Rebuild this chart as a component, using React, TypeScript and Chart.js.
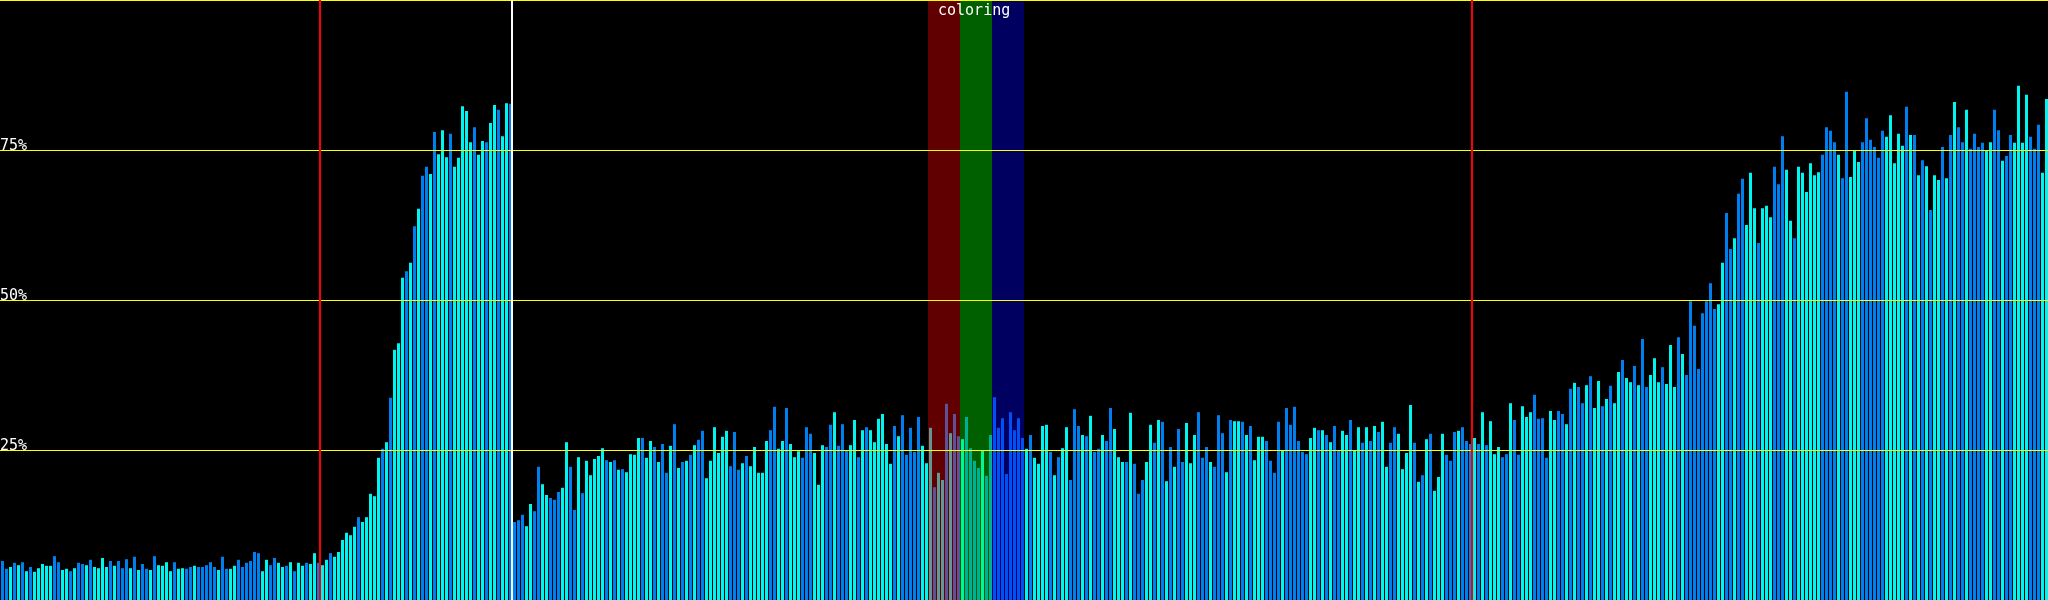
import { useEffect, useRef } from "react";
import { Chart, registerables } from "chart.js";

Chart.register(...registerables);

// ---- data ----
// bar heights in percent, 512 bars, split into runs
const valuesIdle = [
  6.5, 5.2, 5.5, 6.2, 5.8, 6.3, 4.8, 5.5, 4.7, 5.3, 6.0, 5.7, 5.7, 7.3, 6.3, 5.0, 5.2, 4.8, 5.3, 6.2,
  6.0, 5.8, 6.7, 5.5, 5.3, 7.0, 5.5, 6.5, 5.7, 6.5, 5.3, 6.8, 5.3, 7.2, 5.0, 6.0, 5.2, 5.0, 7.3, 5.8,
  5.7, 6.3, 4.8, 6.3, 5.2, 5.3, 5.2, 5.5, 5.7, 5.5, 5.5, 5.8, 6.3, 5.5, 5.0, 7.2, 5.2, 5.2, 5.7, 6.7,
  5.5, 6.2, 6.5, 8.0, 7.8, 4.8, 6.7, 5.8, 7.0, 6.2, 5.5, 5.7, 6.3, 4.8, 6.2, 5.7, 6.2, 6.0, 7.8, 6.2,
];
const valuesRamp = [
  5.8, 6.7, 7.8, 7.2, 8.0, 10.0, 11.2, 10.8, 12.2, 13.8, 13.0, 13.8, 17.7, 17.3, 23.7, 25.2, 26.3,
  33.7, 41.7, 42.8, 53.7, 54.8, 56.2, 62.3, 65.2, 70.7, 72.2, 71.0, 78.0, 74.3, 78.3, 73.8, 77.7,
  72.2, 73.7, 82.3, 81.5, 76.3, 78.8, 74.2, 76.5, 76.3, 79.5, 82.5, 81.7, 77.3, 82.8, 82.7,
];
const valuesMiddle = [
  13.0, 13.3, 14.2, 12.3, 16.0, 14.8, 22.2, 19.3, 17.5, 17.0, 16.7, 18.0, 18.7, 26.3, 22.2, 15.0,
  23.8, 17.8, 23.2, 20.8, 23.5, 24.0, 25.3, 23.3, 23.0, 23.3, 21.7, 21.8, 21.3, 24.3, 24.2, 27.0,
  27.0, 23.7, 26.5, 25.5, 23.0, 26.0, 21.2, 25.7, 29.3, 22.0, 23.0, 23.2, 24.2, 25.8, 26.7, 28.2,
  20.3, 23.2, 28.8, 24.5, 27.2, 28.2, 22.3, 28.0, 21.7, 22.8, 24.0, 22.3, 25.5, 21.2, 21.2, 26.5,
  28.3, 32.2, 25.2, 26.5, 32.0, 26.0, 23.8, 24.8,
  23.7, 28.8, 27.7, 24.5, 19.2, 25.8, 25.5, 29.2, 31.3, 25.7, 29.3, 25.0, 25.8, 30.0, 23.8, 28.3,
  28.8, 28.3, 26.3, 30.2, 31.0, 26.0, 22.7, 29.0, 27.3, 30.8, 24.2, 28.7, 24.7, 30.5, 25.7, 22.8,
  28.7, 18.8, 21.2, 20.0, 32.7, 27.8, 31.0, 27.3, 26.8, 30.5, 25.3, 23.2, 22.0, 25.0, 20.7, 27.5,
  33.8, 28.7, 30.3, 21.0, 31.3, 28.3, 30.3, 27.0,
  25.2, 27.5, 23.7, 22.7, 29.0, 29.2, 24.7, 20.8, 23.8, 25.3, 28.8, 20.0, 31.8, 29.0, 27.5, 27.3,
  30.7, 24.7,
  25.2, 27.5, 26.5, 32.0, 28.5, 23.8, 23.0, 23.0, 31.2, 22.7, 17.7, 20.0, 23.0, 29.2, 26.2, 30.0,
  29.7, 19.8, 25.5, 22.2, 28.5, 23.0, 29.5, 22.8, 27.5, 31.3, 23.7, 25.5, 23.0, 22.2, 30.8, 27.8,
  21.3, 30.0, 29.8, 29.8, 29.7, 27.5, 29.0, 23.3, 27.2, 27.2, 26.5, 23.2, 21.2, 29.7, 25.0, 32.0,
  29.2, 32.2, 26.5, 24.7, 24.3, 27.0, 28.7, 28.3, 28.3, 27.5, 26.3, 29.0, 25.0, 28.2, 27.5, 30.0,
  25.0, 28.8, 26.2, 28.8, 26.5, 29.0, 28.0, 29.7, 22.2, 26.2, 28.8, 27.7, 21.8,
];
const valuesLate = [
  24.5, 32.5, 26.2, 19.7, 20.8, 26.8, 27.7, 18.2, 20.5, 27.7, 24.2, 23.2, 28.0, 28.2, 28.8, 26.5,
  26.0, 27.0, 26.0, 31.3, 25.8, 29.8, 24.3, 25.5, 23.8, 24.3, 32.8, 30.0, 24.2, 32.3, 30.5, 31.3,
  34.2, 30.2, 30.3, 23.7, 31.5, 30.0, 31.5, 31.0, 29.3, 35.2, 36.2, 35.5, 32.8, 35.8, 37.3, 32.0,
  36.5, 32.3, 33.5, 35.7, 32.8, 38.0, 40.0, 37.0, 36.3, 39.0, 35.8, 43.5, 35.5, 37.5, 40.3, 36.3,
  38.8, 36.0, 42.5, 35.5, 43.8, 41.0, 37.5, 49.8, 45.7, 38.5, 47.8, 49.8, 52.8, 48.5, 49.3, 56.2,
  64.5, 58.5, 60.3, 67.7, 70.2, 62.5, 71.2, 65.3, 59.5, 65.3, 65.7, 63.8, 72.2, 69.3, 77.3, 71.7,
  63.2, 60.3, 72.2,
];
const valuesHigh = [
  71.2, 68.0, 72.8, 70.8, 71.3, 74.2, 78.8, 78.2, 76.3, 74.2, 70.3, 84.7, 70.5, 75.0, 73.0, 76.3,
  80.3, 76.7, 75.5, 73.7, 78.2, 77.2, 80.8, 72.8, 77.7, 75.7, 82.2, 77.5, 77.5, 70.8, 73.3, 72.3,
  65.0, 70.8, 70.0, 75.5, 70.3, 77.5, 83.0, 78.8, 76.3, 81.7, 75.2, 77.7, 75.5, 76.2, 75.0, 76.3,
  81.7, 78.3, 73.2, 74.0, 77.5, 76.2, 85.7, 76.2, 84.2, 77.2, 75.2, 79.2, 71.2, 83.5,
];
const barValues = [...valuesIdle, ...valuesRamp, ...valuesMiddle, ...valuesLate, ...valuesHigh];

// bar tone per bar: B = blue, C = cyan
const barTones = (
  "BBCBCBCBCC" + "CCCBBCCBCB" + "BCBCCCCBCB" + "BBCBCBBCBC" + "CCCBCCBBCB" +
  "BBBBCBBCCB" + "BBBBBCCBBC" + "CBCBCCBCCB" + "CCBCCCCCCB" + "CCCCCBCBCC" +
  "CBCBCBBCBC" + "CCBCCCCCBC" + "CBCCBCCBBB" + "BCCBBCCBBB" + "CCBBCBCCCC" +
  "CBCBCBCCCC" + "BCCBCBBCBC" + "BCBCBBCCCC" + "CCBBBCBCCC" + "CCBBCCBCCC" +
  "BBBCCCBBCB" + "BBCCBCBCCC" + "CCCBCBBBBB" + "CCCBCCBCBB" + "CBBBBCBBBB" +
  "BBBBBBCBCC" + "CCBCBCCBBB" + "CBCBBCBBCC" + "CBCBBBCCBC" + "BCBCBBCCCB" +
  "BBCBBBCBCC" + "BCBCCCBBBB" + "CBBBBBBCCB" + "CBCBBCCBCC" + "BCBCBCCBBC" +
  "CCCBCBCBCC" + "CBBBCBBBCB" + "CBCCCBBCBB" + "CCCBBBBCCB" + "BCBCBBCBCC" +
  "BCBCCBCCBC" + "BBCCCBCCCB" + "CBBBBBBBBC" + "CBBCBBCCCB" + "CCCBBBCCBC" +
  "CCCCCBBBBC" + "BBCCCBBBBB" + "BCCCCCBCBC" + "BCBCCBCBCB" + "BCBBBBCCBB" +
  "CBBCCCCBBB" + "CC"
).split("");

const gridValues = [25, 50, 75, 100];
const gridLabels = ["25%", "50%", "75%", ""];
const markerBars = [80, 128, 368];
const markerColors = ["#ff0000", "#ffffff", "#ff0000"];
const bandStarts = [232, 240, 248];
const bandSpan = 8;
const bandColors = ["rgba(255,0,0,0.375)", "rgba(0,255,0,0.375)", "rgba(0,0,255,0.375)"];
const bandTitle = "coloring";

const BLUE = "#0080f0";
const CYAN = "#00f4f0";
const FONT = "15px 'DejaVu Sans Mono', monospace";

const overlayPlugin = {
  id: "overlayPlugin",
  beforeDraw(chart: any) {
    const ctx = chart.ctx;
    ctx.save();
    ctx.fillStyle = "#000000";
    ctx.fillRect(0, 0, chart.width, chart.height);
    ctx.restore();
  },
  afterDatasetsDraw(chart: any) {
    const { ctx, chartArea } = chart;
    const xs = chart.scales.x;
    const ys = chart.scales.y;
    ctx.save();
    // colour bands
    bandStarts.forEach((s, k) => {
      const x0 = xs.getPixelForValue(s - 0.625);
      const x1 = xs.getPixelForValue(s + bandSpan - 0.625);
      ctx.fillStyle = bandColors[k];
      ctx.fillRect(x0, chartArea.top, x1 - x0, chartArea.bottom - chartArea.top);
    });
    // horizontal grid lines
    ctx.strokeStyle = "#ffff00";
    ctx.lineWidth = 1;
    gridValues.forEach((v) => {
      const py = Math.round(ys.getPixelForValue(v)) + 0.5;
      ctx.beginPath();
      ctx.moveTo(chartArea.left, py);
      ctx.lineTo(chartArea.right, py);
      ctx.stroke();
    });
    // vertical markers
    ctx.lineWidth = 2;
    markerBars.forEach((b, k) => {
      const px = xs.getPixelForValue(b - 0.625);
      ctx.strokeStyle = markerColors[k];
      ctx.beginPath();
      ctx.moveTo(px, chartArea.top);
      ctx.lineTo(px, chartArea.bottom);
      ctx.stroke();
    });
    // labels
    ctx.fillStyle = "#ffffff";
    ctx.font = FONT;
    ctx.textBaseline = "alphabetic";
    ctx.textAlign = "left";
    gridValues.forEach((v, k) => {
      if (!gridLabels[k]) return;
      const py = Math.round(ys.getPixelForValue(v));
      ctx.fillText(gridLabels[k], 0, py);
    });
    const bx = xs.getPixelForValue(bandStarts[0] - 0.625);
    ctx.fillText(bandTitle, bx + 10, 15);
    ctx.restore();
  },
};

export default function App() {
  const canvasRef = useRef<HTMLCanvasElement | null>(null);

  useEffect(() => {
    const canvas = canvasRef.current;
    if (!canvas) return;
    const chart = new Chart(canvas, {
      type: "bar",
      data: {
        datasets: [
          {
            data: barValues.map((v, i) => ({ x: i, y: v })),
            backgroundColor: barTones.map((t) => (t === "B" ? BLUE : CYAN)),
            borderWidth: 0,
            barPercentage: 0.75,
            categoryPercentage: 1,
            inflateAmount: 0,
          } as any,
        ],
      },
      options: {
        animation: false,
        responsive: false,
        maintainAspectRatio: false,
        devicePixelRatio: 1,
        layout: { padding: 0 },
        events: [],
        plugins: {
          legend: { display: false },
          tooltip: { enabled: false },
          title: { display: false },
        },
        scales: {
          x: { type: "linear", min: -0.625, max: 511.375, display: false, offset: false },
          y: { min: 0, max: 100, display: false },
        },
      } as any,
      plugins: [overlayPlugin],
    });
    return () => chart.destroy();
  }, []);

  return (
    <div
      style={{
        position: "fixed",
        left: 0,
        top: 0,
        width: 2048,
        height: 600,
        background: "#000",
      }}
    >
      <canvas ref={canvasRef} width={2048} height={600} style={{ width: 2048, height: 600, display: "block" }} />
    </div>
  );
}
